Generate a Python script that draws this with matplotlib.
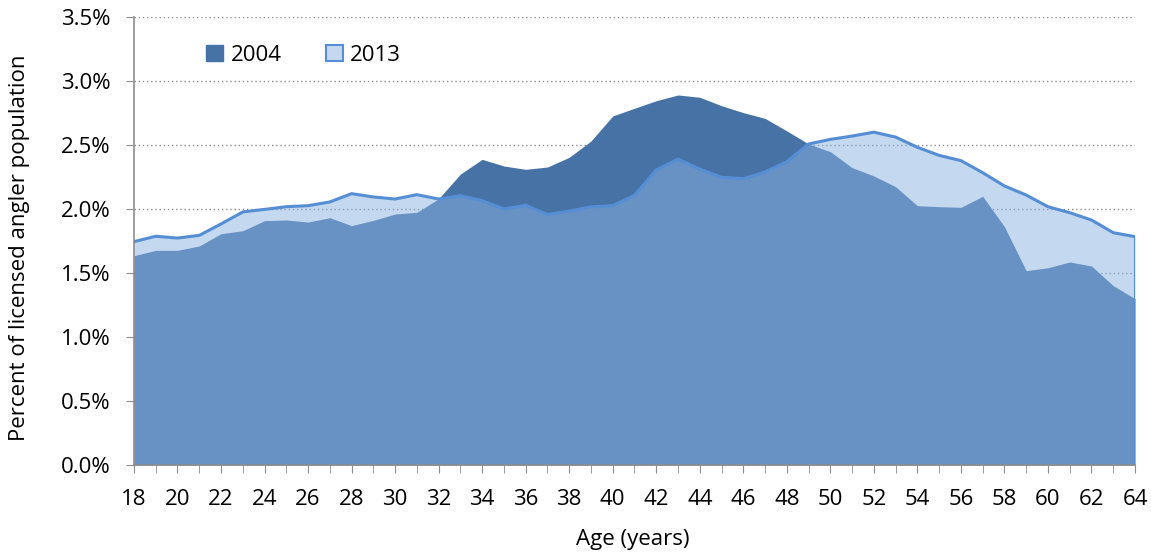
import matplotlib.pyplot as plt
from matplotlib.patches import Patch
from matplotlib.ticker import MultipleLocator, FuncFormatter

plt.rcParams['font.family'] = ['Open Sans', 'DejaVu Sans']

ages = list(range(18, 65))

share_2004 = [1.635, 1.677, 1.677, 1.711, 1.807, 1.830, 1.909, 1.914, 1.898, 1.932,
              1.870, 1.911, 1.961, 1.974, 2.080, 2.273, 2.388, 2.336, 2.310, 2.328,
              2.404, 2.531, 2.727, 2.787, 2.846, 2.891, 2.873, 2.807, 2.753, 2.708,
              2.610, 2.508, 2.448, 2.323, 2.258, 2.174, 2.026, 2.018, 2.013, 2.099,
              1.862, 1.518, 1.541, 1.586, 1.555, 1.401, 1.299]

share_2013 = [1.745, 1.787, 1.773, 1.794, 1.883, 1.977, 1.997, 2.018, 2.026, 2.055,
              2.120, 2.094, 2.078, 2.112, 2.078, 2.104, 2.065, 2.000, 2.029, 1.956,
              1.984, 2.016, 2.026, 2.107, 2.305, 2.390, 2.312, 2.248, 2.237, 2.289,
              2.370, 2.508, 2.544, 2.570, 2.600, 2.562, 2.482, 2.419, 2.378, 2.284,
              2.180, 2.109, 2.018, 1.971, 1.914, 1.815, 1.784]

fig = plt.figure(figsize=(11.51, 5.56), dpi=100)
ax = fig.add_axes([0.1164, 0.1637, 0.8697, 0.8057])

# 2004 solid, 2013 half transparent on top
ax.fill_between(ages, 0, share_2004, color='#4672A6', linewidth=0, zorder=2)
ax.fill_between(ages, 0, share_2013, color='#8AB2E0', alpha=0.5, linewidth=0, zorder=3)
ax.plot(ages, share_2013, color='#558ED5', linewidth=2.2, zorder=4)
ax.plot([ages[-1], ages[-1]], [0, share_2013[-1]], color='#558ED5', linewidth=2.2, zorder=4)

ax.set_xlim(18, 64)
ax.set_ylim(0, 3.5)
ax.xaxis.set_major_locator(MultipleLocator(2))
ax.xaxis.set_minor_locator(MultipleLocator(1))
ax.yaxis.set_major_locator(MultipleLocator(0.5))
ax.yaxis.set_major_formatter(FuncFormatter(lambda v, p: '%.1f%%' % v))

ax.grid(axis='y', color='#8C8C8C', linestyle=(0, (1, 2)), linewidth=1.0, zorder=0)
for s in ['top', 'right']:
    ax.spines[s].set_visible(False)
for s in ['left', 'bottom']:
    ax.spines[s].set_color('#8C8C8C')
    ax.spines[s].set_linewidth(1.2)
    ax.spines[s].set_zorder(5)

ax.tick_params(axis='both', which='both', direction='out', color='#8C8C8C', labelsize=16)
ax.tick_params(axis='x', which='major', length=6, pad=11)
ax.tick_params(axis='x', which='minor', length=6)
ax.tick_params(axis='y', length=6, pad=11)

ax.set_xlabel('Age (years)', fontsize=16)
ax.set_ylabel('Percent of licensed angler population', fontsize=16)
ax.xaxis.set_label_coords(0.4985, -0.143)
ax.yaxis.set_label_coords(-0.104, 0.484)

handles = [Patch(facecolor='#4672A6', edgecolor='#4672A6', label='2004'),
           Patch(facecolor='#C6D8EF', edgecolor='#558ED5', linewidth=1.5, label='2013')]
ax.legend(handles=handles, loc='center left', bbox_to_anchor=(0.052, 0.915), ncol=2,
          frameon=False, fontsize=16, handlelength=0.75, handleheight=0.75,
          handletextpad=0.35, columnspacing=2.0)

plt.savefig('out.png', dpi=100)
